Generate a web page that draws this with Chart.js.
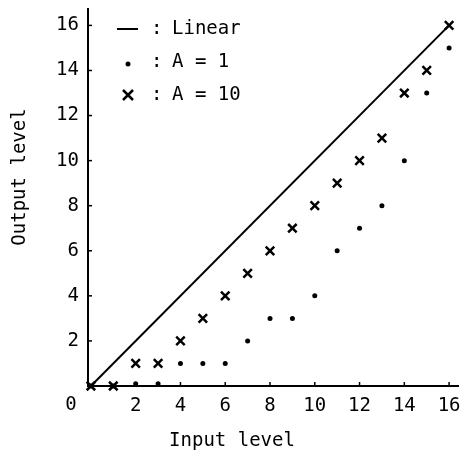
<!DOCTYPE html>
<html>
<head>
<meta charset="utf-8">
<script src="https://cdn.jsdelivr.net/npm/chart.js@4/dist/chart.umd.min.js"></script>
<style>
  html, body { margin: 0; padding: 0; background: #fff; }
  #wrap { width: 467px; height: 461px; }
</style>
</head>
<body>
<div id="wrap"><canvas id="grafico"></canvas></div>
<script>
// datos
const inputLevels = [0, 1, 2, 3, 4, 5, 6, 7, 8, 9, 10, 11, 12, 13, 14, 15, 16];
const outputA1 = [0, 0, 0.1, 0.1, 1, 1, 1, 2, 3, 3, 4, 6, 7, 8, 10, 13, 15];
const outputA10 = [0, 0, 1, 1, 2, 3, 4, 5, 6, 7, 8, 9, 10, 11, 13, 14, 16];
const linearX = [0, 16];
const linearY = [0, 16];
const xTicks = [2, 4, 6, 8, 10, 12, 14, 16];
const yTicks = [2, 4, 6, 8, 10, 12, 14, 16];
const legendLabels = ["Linear", "A = 1", "A = 10"];

const FUENTE = "'DejaVu Sans Mono', monospace";
const toPoints = (xs, ys) => xs.map((x, i) => ({ x: x, y: ys[i] }));

// ticks hacia dentro, el "0" de la esquina, titulos y leyenda
const extras = {
  id: "extras",
  afterDraw(chart) {
    const ctx = chart.ctx;
    const xs = chart.scales.x, ys = chart.scales.y;
    const area = chart.chartArea;
    ctx.save();
    ctx.strokeStyle = "#000";
    ctx.fillStyle = "#000";
    ctx.lineWidth = 1.5;
    xTicks.forEach(v => {
      const px = xs.getPixelForValue(v);
      ctx.beginPath(); ctx.moveTo(px, area.bottom); ctx.lineTo(px, area.bottom - 4); ctx.stroke();
    });
    yTicks.forEach(v => {
      const py = ys.getPixelForValue(v);
      ctx.beginPath(); ctx.moveTo(area.left, py); ctx.lineTo(area.left + 4, py); ctx.stroke();
    });

    ctx.font = "19px " + FUENTE;
    ctx.textAlign = "center";
    ctx.textBaseline = "middle";
    ctx.fillText("0", area.left - 17, area.bottom + 19);
    ctx.fillText("Input level", 232, 441);
    ctx.save();
    ctx.translate(20, 177);
    ctx.rotate(-Math.PI / 2);
    ctx.fillText("Output level", 0, 0);
    ctx.restore();

    // leyenda
    const filas = [29, 62, 95];
    ctx.textAlign = "left";
    filas.forEach((y, i) => {
      if (i === 0) {
        ctx.lineWidth = 2;
        ctx.beginPath(); ctx.moveTo(117, y); ctx.lineTo(138, y); ctx.stroke();
      } else if (i === 1) {
        ctx.beginPath(); ctx.arc(128, y + 2, 2.5, 0, Math.PI * 2); ctx.fill();
      } else {
        ctx.lineWidth = 2.5;
        ctx.beginPath();
        ctx.moveTo(123, y - 5); ctx.lineTo(133, y + 5);
        ctx.moveTo(133, y - 5); ctx.lineTo(123, y + 5);
        ctx.stroke();
      }
      ctx.fillText(":", 151, y);
      ctx.fillText(legendLabels[i], 172, y);
    });
    ctx.restore();
  }
};

new Chart(document.getElementById("grafico").getContext("2d"), {
  type: "scatter",
  data: {
    datasets: [
      {
        label: legendLabels[0],
        type: "line",
        data: toPoints(linearX, linearY),
        borderColor: "#000",
        borderWidth: 2,
        pointRadius: 0,
        fill: false,
        clip: false
      },
      {
        label: legendLabels[1],
        data: toPoints(inputLevels, outputA1),
        pointStyle: "circle",
        pointRadius: 2.5,
        backgroundColor: "#000",
        borderColor: "#000",
        borderWidth: 0,
        clip: false
      },
      {
        label: legendLabels[2],
        data: toPoints(inputLevels, outputA10),
        pointStyle: "crossRot",
        pointRadius: 6,
        borderColor: "#000",
        borderWidth: 2.5,
        clip: false
      }
    ]
  },
  options: {
    responsive: true,
    maintainAspectRatio: false,
    animation: false,
    layout: { padding: { top: 8, right: 2, left: 0, bottom: 0 } },
    plugins: {
      legend: { display: false },
      tooltip: { enabled: false }
    },
    scales: {
      x: {
        type: "linear",
        min: -0.13,
        max: 16.42,
        afterBuildTicks: s => { s.ticks = xTicks.map(v => ({ value: v })); },
        afterFit: s => { s.height = 75; s.paddingLeft = 0; s.paddingRight = 0; },
        grid: { display: false, drawTicks: false },
        border: { display: true, color: "#000", width: 2 },
        ticks: { color: "#000", font: { family: FUENTE, size: 19 }, padding: 9, maxRotation: 0, autoSkip: false }
      },
      y: {
        type: "linear",
        min: 0,
        max: 16.75,
        afterBuildTicks: s => { s.ticks = yTicks.map(v => ({ value: v })); },
        afterFit: s => { s.width = 88; s.paddingTop = 0; s.paddingBottom = 0; },
        grid: { display: false, drawTicks: false },
        border: { display: true, color: "#000", width: 2 },
        ticks: { color: "#000", font: { family: FUENTE, size: 19 }, padding: 9, autoSkip: false }
      }
    }
  },
  plugins: [extras]
});
</script>
</body>
</html>
